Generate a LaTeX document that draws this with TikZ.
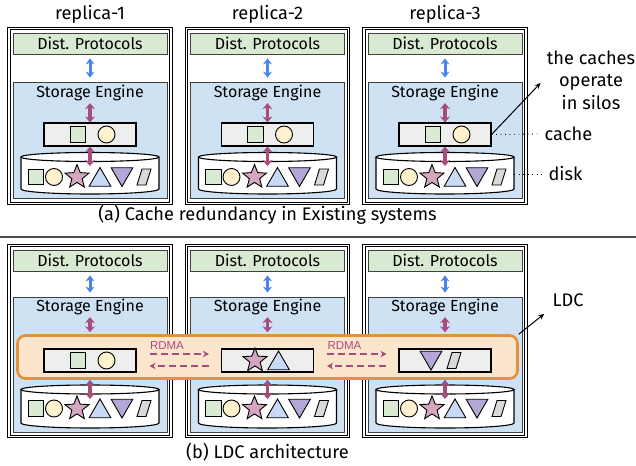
\documentclass[tikz,border=0pt]{standalone}
\usepackage{fontspec}
\setmainfont{Fira Sans}
\newfontfamily\rdmafont{Liberation Sans}
\usetikzlibrary{arrows.meta,shapes.geometric,positioning}

\definecolor{dpgreen}{HTML}{D9EAD3}
\definecolor{seblue}{HTML}{CFE2F3}
\definecolor{cachegray}{HTML}{EEEEEE}
\definecolor{circyellow}{HTML}{FFF2CC}
\definecolor{starpink}{HTML}{D5A6BD}
\definecolor{triblue}{HTML}{C9DAF8}
\definecolor{tripurple}{HTML}{B4A7D6}
\definecolor{slabgray}{HTML}{D9D9D9}
\definecolor{netblue}{HTML}{4A86E8}
\definecolor{ioplum}{HTML}{A64D79}
\definecolor{ldcorange}{HTML}{E69138}
\definecolor{ldcfill}{HTML}{FCE5CD}

\tikzset{
  boxfont/.style={font=\fontsize{16}{18}\selectfont},
  bigfont/.style={font=\fontsize{18.2}{22.5}\selectfont},
  replica/.style={draw, double, double distance=1.6pt, line width=0.9pt,
                  minimum width=162pt, inner sep=0pt},
  dpbox/.style={rectangle, draw=black!75, line width=0.8pt, fill=dpgreen,
                minimum width=154pt, minimum height=21pt, inner sep=0pt, boxfont},
  sebox/.style={rectangle, draw=black!75, line width=0.8pt, fill=seblue,
                minimum width=154pt, inner sep=0pt},
  setitle/.style={inner sep=1pt, boxfont},
  cachebox/.style={rectangle, draw, line width=1.1pt, fill=cachegray,
                   minimum width=92pt, minimum height=23pt, inner sep=0pt},
  disk/.style={draw, line width=1.1pt, fill=white},
  % the data items kept on disk and in the caches
  item/.style={draw, line width=0.9pt, inner sep=0pt},
  sqitem/.style={item, rectangle, fill=dpgreen, minimum size=15.5pt},
  circitem/.style={item, circle, fill=circyellow, minimum size=17pt},
  staritem/.style={item, star, star points=5, star point ratio=2.3,
                   fill=starpink, minimum size=25pt},
  upitem/.style={item, regular polygon, regular polygon sides=3,
                 fill=triblue, minimum size=25pt},
  downitem/.style={item, regular polygon, regular polygon sides=3,
                   shape border rotate=180, fill=tripurple, minimum size=25pt},
  netarrow/.style={arrows={Stealth[length=6pt,width=9pt]-Stealth[length=6pt,width=9pt]},
                   netblue, line width=3pt, shorten <=4pt, shorten >=4pt},
  ioarrow/.style={arrows={Stealth[length=6pt,width=10pt]-Stealth[length=6pt,width=10pt]},
                  ioplum, line width=3.6pt},
  rdmaarrow/.style={-{Stealth[length=6pt,width=6.5pt]}, ioplum, line width=1.3pt,
                    dash pattern=on 7pt off 4pt},
  rdmalabel/.style={font=\rdmafont\fontsize{11.5}{13}\selectfont},
  pointer/.style={-{Stealth[length=6pt,width=5pt]}, line width=1pt},
  dotline/.style={line width=0.9pt, dash pattern=on 0.9pt off 3.6pt},
  ldcband/.style={rectangle, draw=ldcorange, line width=2.6pt, fill=ldcfill,
                  rounded corners=8pt, minimum width=500pt, minimum height=43pt}
}

% slanted slab item, centred on (#1,#2)
\newcommand{\slab}[2]{%
  \filldraw[item, fill=slabgray] (#1-7,#2+8) -- (#1-2,#2-8) -- (#1+7,#2-8)
    -- (#1+2,#2+8) -- cycle;
}
% one row of items inside a disk: #1 = column centre, #2 = row height
\newcommand{\diskrow}[2]{%
  \node[sqitem]   at (#1-54,#2) {};
  \node[circitem] at (#1-36,#2) {};
  \node[staritem] at (#1-13,#2) {};
  \node[upitem]   at (#1+10,#2+3) {};
  \node[downitem] at (#1+32,#2-3) {};
  \slab{#1+54}{#2}
}

\begin{document}
\begin{tikzpicture}[x=1pt, y=-1pt]
  \useasboundingbox (0,0) rectangle (636,465);

  % (a) three replicas, each with its own cache
  \foreach \n/\c in {1/90, 2/267.5, 3/445} {
    \node[bigfont] (name\n) at (\c,14) {replica-\n};
    \node[replica, minimum height=175pt] (rep\n) at (\c,116) {};
    \node[dpbox] (dp\n) at (\c,43.5) {Dist. Protocols};
    \node[sebox, minimum height=116pt] (se\n) at (\c,140) {};
    \node[setitle] (set\n) at (\c,93) {Storage Engine};
    \node[cachebox] (cache\n) at (\c,134.5) {};
    \node[sqitem]   at (\c-12,134.5) {};
    \node[circitem] at (\c+16.5,134.5) {};
    \filldraw[disk] (\c-69,157) -- (\c-69,189)
      arc[start angle=180, end angle=0, x radius=69, y radius=5] -- (\c+69,157);
    \filldraw[disk] (\c,157) ellipse[x radius=69, y radius=4.5];
    \coordinate (dtop\n) at (\c,166);
    \coordinate (dside\n) at (\c+69,174);
    \diskrow{\c}{177}
    \draw[netarrow] (dp\n) -- (se\n);
    \draw[ioarrow, shorten <=1pt] (set\n) -- (cache\n);
    \draw[ioarrow] (cache\n) -- (dtop\n);
  }

  % notes on the right
  \node[bigfont, align=center] (silos) at (591,80) {the caches\\operate\\in silos};
  \node[bigfont, anchor=west] (cachename) at (541,134) {cache};
  \node[bigfont, anchor=west] (diskname) at (545,174) {disk};
  \draw[pointer, shorten >=4pt] (cache3.east) -- (silos.west);
  \draw[dotline] (cache3.east) -- (cachename.west);
  \draw[dotline] (dside3) -- (diskname.west);

  \node[bigfont] (captiona) at (267.5,215) {(a) Cache redundancy in Existing systems};
  \draw[black!70, line width=1.2pt] (0,237) -- (636,237);

  % (b) replicas sharing one logical cache
  \foreach \n/\c in {1/90, 2/267.5, 3/445} {
    \node[replica, minimum height=191pt] (brep\n) at (\c,341) {};
    \node[dpbox] (bdp\n) at (\c,260.5) {Dist. Protocols};
    \node[sebox, minimum height=135pt] (bse\n) at (\c,364.5) {};
    \node[setitle] (bset\n) at (\c,307) {Storage Engine};
    \filldraw[disk] (\c-69,389.5) -- (\c-69,423)
      arc[start angle=180, end angle=0, x radius=69, y radius=5] -- (\c+69,389.5);
    \filldraw[disk] (\c,389.5) ellipse[x radius=69, y radius=4.5];
    \coordinate (bdtop\n) at (\c,399);
    \diskrow{\c}{408.5}
    \draw[netarrow] (bdp\n) -- (bse\n);
  }

  \node[ldcband] (ldc) at (267.5,357) {};

  \foreach \n/\c in {1/90, 2/267.5, 3/445} {
    \node[cachebox] (bcache\n) at (\c,360.5) {};
    \draw[ioarrow, shorten <=1pt, shorten >=2pt] (bset\n) -- (bset\n |- ldc.north);
    \draw[ioarrow] (bcache\n |- ldc.south) -- (bdtop\n);
  }
  \node[sqitem]   at (78,360.5) {};
  \node[circitem] at (106.5,360.5) {};
  \node[staritem] at (255,360.5) {};
  \node[upitem]   at (278.5,363.5) {};
  \node[downitem] at (431,357.5) {};
  \slab{454}{360.5}

  % RDMA traffic between neighbouring caches
  \foreach \a/\b in {1/2, 2/3} {
    \draw[rdmaarrow, shorten <=13pt, shorten >=12pt]
      ([yshift=6.5pt]bcache\a.east) -- node[rdmalabel, above=1pt, pos=0.36] {RDMA}
      ([yshift=6.5pt]bcache\b.west);
    \draw[rdmaarrow, shorten <=12pt, shorten >=13pt]
      ([yshift=-5.5pt]bcache\b.west) -- ([yshift=-5.5pt]bcache\a.east);
  }

  \node[bigfont] (ldcname) at (568,300) {LDC};
  \draw[pointer, shorten >=6pt] (ldc.north east) -- (ldcname.south west);

  \node[bigfont] (captionb) at (267.5,452) {(b) LDC architecture};
\end{tikzpicture}
\end{document}
